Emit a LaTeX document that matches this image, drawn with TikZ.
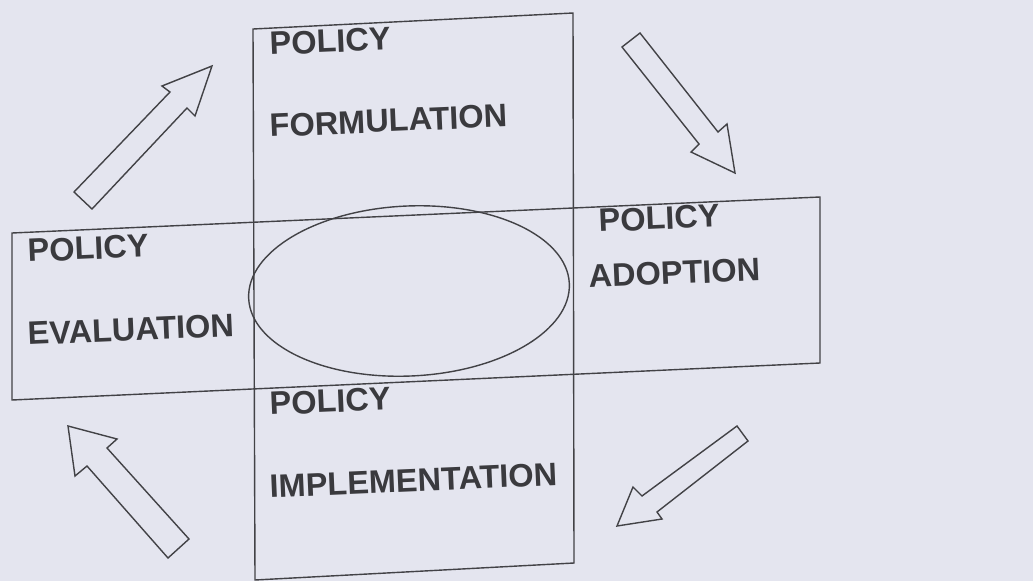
\documentclass[tikz,border=0pt]{standalone}
\usepackage{fontspec}
\setmainfont{Liberation Sans}
\usetikzlibrary{shapes.geometric}
\definecolor{bg}{RGB}{228,229,239}
\definecolor{ink}{RGB}{66,66,70}
\definecolor{txt}{RGB}{58,58,62}
\begin{document}
\begin{tikzpicture}[x=1pt,y=-1pt,
  outline/.style={draw=ink,line width=1.4pt,line join=miter},
  blockarrow/.style={draw=ink,line width=1.4pt,line join=miter},
  lbl/.style={anchor=base west,inner sep=0pt,text=txt,font=\fontsize{32.5}{32.5}\selectfont\bfseries,rotate=2.5}]
\fill[bg] (0,0) rectangle (1033,581);
\useasboundingbox (0,0) rectangle (1033,581);
% boxes
\draw[outline] (12,233) -- (820,197) -- (820,363) -- (12,400) -- cycle;
\draw[outline] (253,29) -- (573,13) -- (574,563) -- (255,580) -- cycle;
% central ellipse
\node[ellipse,draw=ink,line width=1.4pt,minimum width=321pt,minimum height=170pt,inner sep=0pt,rotate=2.7] (core) at (409,291) {};
% labels
\node[lbl] (pf) at (270,55) {POLICY};
\node[lbl] (ff) at (270,137) {FORMULATION};
\node[lbl] (pe) at (28,262) {POLICY};
\node[lbl] (fe) at (28,345) {EVALUATION};
\node[lbl] (pa) at (599,232) {POLICY};
\node[lbl] (fa) at (589,288) {ADOPTION};
\node[lbl] (pi) at (270,415) {POLICY};
\node[lbl] (fi) at (270,498) {IMPLEMENTATION};
% block arrows
\draw[blockarrow] (74,192) -- (170,92) -- (162,86) -- (212,66) -- (195,116) -- (187,108) -- (92,209) -- cycle;
\draw[blockarrow] (622,47) -- (640,33) -- (718,132) -- (727,124) -- (735,173) -- (691,152) -- (699,144) -- cycle;
\draw[blockarrow] (68,426) -- (117,439) -- (107,448) -- (189,539) -- (168,558) -- (87,466) -- (75,476) -- cycle;
\draw[blockarrow] (737,426) -- (748,441) -- (657,512) -- (662,519) -- (617,526) -- (633,487) -- (642,496) -- cycle;
\end{tikzpicture}
\end{document}
